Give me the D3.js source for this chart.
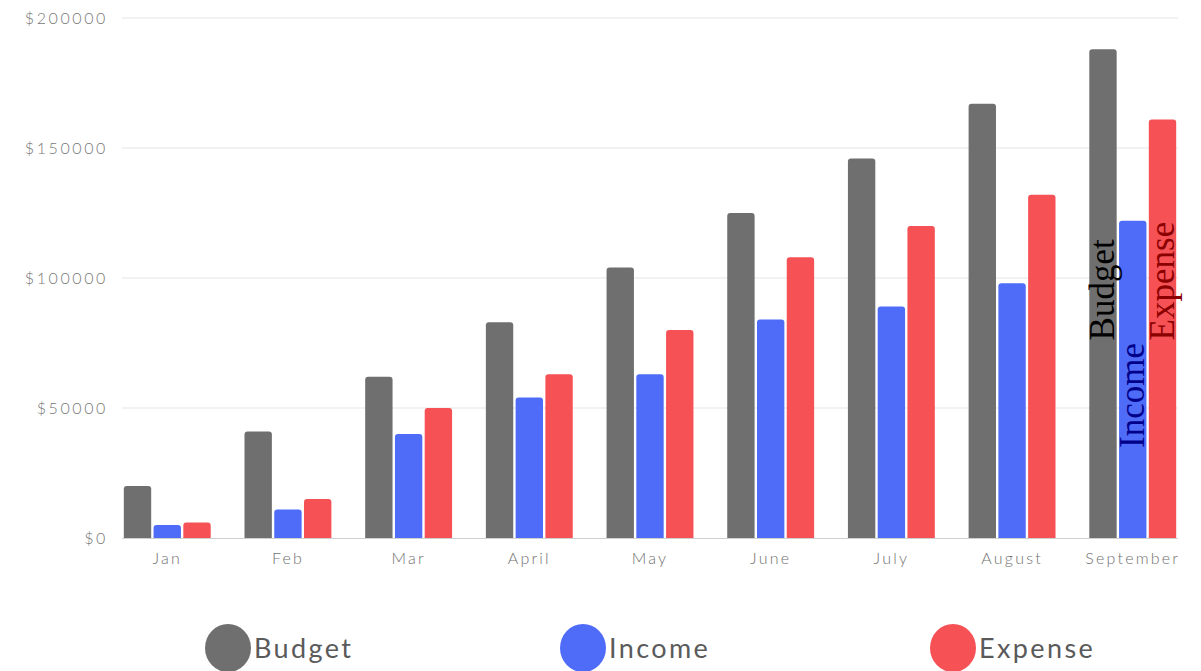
<!DOCTYPE html>
<html>
<head>
<meta charset="utf-8">
<script src="https://cdn.jsdelivr.net/npm/d3@7"></script>
<style>
  html, body { margin: 0; padding: 0; background: #fff; }
  svg { display: block; }
</style>
</head>
<body>
<svg id="chart" width="1201" height="671"></svg>
<script>
const months = ["Jan", "Feb", "Mar", "April", "May", "June", "July", "August", "September"];
const seriesNames = ["Budget", "Income", "Expense"];
const budget  = [20000, 41000, 62000, 83000, 104000, 125000, 146000, 167000, 188000];
const income  = [5000, 11000, 40000, 54000, 63000, 84000, 89000, 98000, 122000];
const expense = [6000, 15000, 50000, 63000, 80000, 108000, 120000, 132000, 161000];
const yTicks  = [0, 50000, 100000, 150000, 200000];

(function () {
const colors = { Budget: "#6f6f6f", Income: "#4f6cf8", Expense: "#f65155" };
const labelColors = { Budget: "#000000", Income: "#00008b", Expense: "#8b0000" };
const seriesValues = { Budget: budget, Income: income, Expense: expense };

const svg = d3.select("#chart");
const mLeft = 122, mRight = 1178, mTop = 18, mBottom = 538;

const x = d3.scaleBand().domain(months).range([mLeft, mRight]).paddingInner(0.28).paddingOuter(0.015);
const xs = d3.scaleBand().domain(seriesNames).range([0, x.bandwidth()]).paddingInner(0.08);
const y = d3.scaleLinear().domain([0, 200000]).range([mBottom, mTop]);

// gridlines
svg.append("g").selectAll("line").data(yTicks.filter(d => d > 0)).join("line")
  .attr("x1", mLeft).attr("x2", mRight)
  .attr("y1", d => y(d)).attr("y2", d => y(d))
  .attr("stroke", "#e6e6e6").attr("stroke-width", 1.2);

// y axis labels
const yAxis = d3.axisLeft(y).tickValues(yTicks).tickSize(0).tickPadding(14)
  .tickFormat(d => "$" + d);
svg.append("g").attr("transform", `translate(${mLeft},0)`).call(yAxis)
  .call(g => g.select(".domain").remove())
  .call(g => g.selectAll("text")
    .attr("font-family", "Lato, 'Open Sans', sans-serif")
    .attr("font-weight", 300)
    .attr("font-size", 16)
    .attr("letter-spacing", 2.6)
    .attr("fill", "#777"));

// bars
const data = [];
months.forEach((m, i) => seriesNames.forEach(s => data.push({ month: m, series: s, value: seriesValues[s][i] })));

svg.append("g").selectAll("path").data(data).join("path")
  .attr("fill", d => colors[d.series])
  .attr("d", d => {
    const x0 = x(d.month) + xs(d.series), w = xs.bandwidth();
    const y0 = y(d.value), h = y(0) - y0, r = 3;
    return `M${x0},${y0 + h}V${y0 + r}Q${x0},${y0} ${x0 + r},${y0}H${x0 + w - r}Q${x0 + w},${y0} ${x0 + w},${y0 + r}V${y0 + h}Z`;
  });

// x axis
const xAxis = d3.axisBottom(x).tickSize(0).tickPadding(15);
svg.append("g").attr("transform", `translate(0,${mBottom})`).call(xAxis)
  .call(g => g.select(".domain").attr("stroke", "#d0d0d0").attr("stroke-width", 1.2)
        .attr("d", `M${mLeft},0.5H${mRight}`))
  .call(g => g.selectAll("text")
    .attr("font-family", "Lato, 'Open Sans', sans-serif")
    .attr("font-weight", 300)
    .attr("font-size", 16)
    .attr("letter-spacing", 2.2)
    .attr("fill", "#707070"));

// rotated series labels on the last group
const last = months[months.length - 1];
const labelSpec = [
  { series: "Budget", anchor: "start", at: 76000 },
  { series: "Income", anchor: "end", at: 75000 },
  { series: "Expense", anchor: "start", at: 76000 }
];
svg.append("g").selectAll("text").data(labelSpec).join("text")
  .attr("transform", d => `translate(${x(last) + xs(d.series) + xs.bandwidth() / 2 + 11},${y(d.at)}) rotate(-90)`)
  .attr("text-anchor", d => d.anchor)
  .attr("font-family", "'Liberation Serif', 'Times New Roman', serif")
  .attr("font-size", 35)
  .attr("fill", d => labelColors[d.series])
  .text(d => d.series);

// legend
const legendX = [228, 583, 953];
const legend = svg.append("g").selectAll("g").data(seriesNames).join("g")
  .attr("transform", (d, i) => `translate(${legendX[i]},648)`);
legend.append("ellipse").attr("rx", 23).attr("ry", 24).attr("fill", d => colors[d]);
legend.append("text")
  .attr("x", 26).attr("y", 10)
  .attr("font-family", "Lato, 'Open Sans', sans-serif")
  .attr("font-weight", 400)
  .attr("font-size", 27)
  .attr("letter-spacing", 2.4)
  .attr("fill", "#5a5a5a")
  .text(d => d);
})();
</script>
</body>
</html>
